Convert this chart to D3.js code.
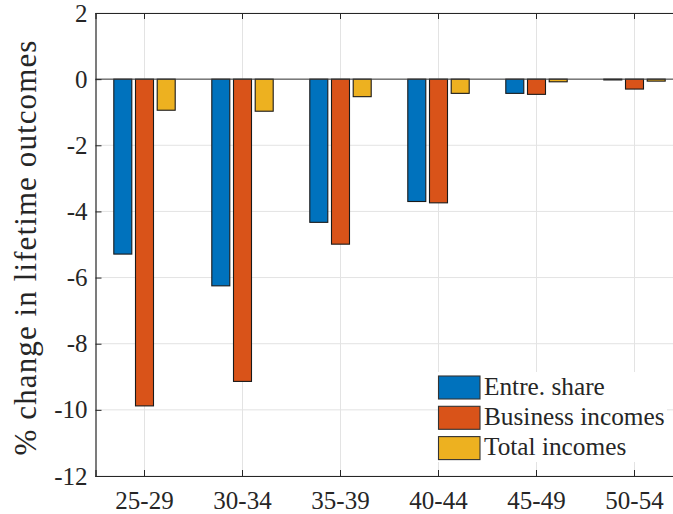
<!DOCTYPE html>
<html>
<head>
<meta charset="utf-8">
<script src="https://cdn.jsdelivr.net/npm/d3@7"></script>
<style>
  html, body { margin: 0; padding: 0; background: #fff; }
  svg { display: block; }
  svg text { font-family: 'Liberation Serif', 'Times New Roman', serif !important; fill: #262626; }
</style>
</head>
<body>
<svg id="chart" width="673" height="514"></svg>
<script>
const categories = ["25-29", "30-34", "35-39", "40-44", "45-49", "50-54"];
const seriesNames = ["Entre. share", "Business incomes", "Total incomes"];
const entreShare = [-5.29, -6.25, -4.33, -3.70, -0.43, -0.02];
const businessIncomes = [-9.88, -9.14, -4.99, -3.74, -0.46, -0.30];
const totalIncomes = [-0.94, -0.97, -0.53, -0.43, -0.08, -0.06];
const yTicks = [2, 0, -2, -4, -6, -8, -10, -12];
const colors = ["#0072BD", "#D95319", "#EDB120"];

const seriesValues = [entreShare, businessIncomes, totalIncomes];

const svg = d3.select("#chart");
const pLeft = 95.5, pRight = 683.5, pTop = 13, pBottom = 476;

const x = d3.scaleBand().domain(categories).range([pLeft, pRight]).padding(0);
const xi = d3.scalePoint().domain(seriesNames).range([-21.7, 21.7]);
const y = d3.scaleLinear().domain([-12, 2]).range([pBottom, pTop]);
const barW = 18;
const gridColor = "#e3e3e3";
const axisColor = "#262626";

// grid
const grid = svg.append("g");
grid.selectAll("line.h").data(yTicks).enter().append("line")
  .attr("x1", pLeft).attr("x2", pRight)
  .attr("y1", d => y(d)).attr("y2", d => y(d))
  .attr("stroke", gridColor).attr("stroke-width", 1);
grid.selectAll("line.v").data(categories).enter().append("line")
  .attr("y1", pTop).attr("y2", pBottom)
  .attr("x1", d => x(d) + x.bandwidth() / 2).attr("x2", d => x(d) + x.bandwidth() / 2)
  .attr("stroke", gridColor).attr("stroke-width", 1);

// bars
const bars = svg.append("g");
seriesValues.forEach((vals, si) => {
  bars.selectAll(null).data(vals).enter().append("rect")
    .attr("x", (d, i) => x(categories[i]) + x.bandwidth() / 2 + xi(seriesNames[si]) - barW / 2)
    .attr("width", barW)
    .attr("y", d => Math.min(y(d), y(0)))
    .attr("height", d => Math.max(Math.abs(y(d) - y(0)), 0.8))
    .attr("fill", colors[si])
    .attr("stroke", "#1a1a1a")
    .attr("stroke-width", 1.1);
});

// baseline
svg.append("line")
  .attr("x1", pLeft).attr("x2", pRight)
  .attr("y1", y(0)).attr("y2", y(0))
  .attr("stroke", "#3a3a3a").attr("stroke-width", 1);

// axes
const yAxis = d3.axisLeft(y).tickValues(yTicks).tickSize(-6).tickPadding(8).tickFormat(d3.format("d"));
const gy = svg.append("g").attr("transform", `translate(${pLeft},0)`).call(yAxis);
const xAxis = d3.axisBottom(x).tickSize(-6).tickPadding(15);
const gx = svg.append("g").attr("transform", `translate(0,${pBottom})`).call(xAxis);
const xTop = d3.axisTop(x).tickSize(-6).tickFormat("");
const gt = svg.append("g").attr("transform", `translate(0,${pTop})`).call(xTop);

[gy, gx, gt].forEach(g => {
  g.attr("font-family", null);
  g.select(".domain").attr("stroke", axisColor).attr("stroke-width", 1.2);
  g.selectAll(".tick line").attr("stroke", axisColor).attr("stroke-width", 1);
  g.selectAll("text").attr("font-size", 25).attr("fill", axisColor);
});
gy.selectAll(".tick text").text(d => d < 0 ? "-" + Math.abs(d) : String(d));

// y label
svg.append("text")
  .attr("transform", `translate(36,${(pTop + pBottom) / 2 + 3}) rotate(-90)`)
  .attr("text-anchor", "middle")
  .attr("font-size", 31)
  .attr("letter-spacing", 1.1)
  .text("% change in lifetime outcomes");

// legend
const lg = svg.append("g");
lg.append("rect").attr("x", 438).attr("y", 372).attr("width", 229).attr("height", 90).attr("fill", "#fff");
seriesNames.forEach((name, i) => {
  const yy = 376 + i * 30.3;
  lg.append("rect").attr("x", 438.5).attr("y", yy).attr("width", 41.5).attr("height", 23)
    .attr("fill", colors[i]).attr("stroke", "#333").attr("stroke-width", 1.1);
  lg.append("text").attr("x", 484).attr("y", yy + 18.5)
    .attr("font-size", 25.3).text(name);
});
</script>
</body>
</html>
